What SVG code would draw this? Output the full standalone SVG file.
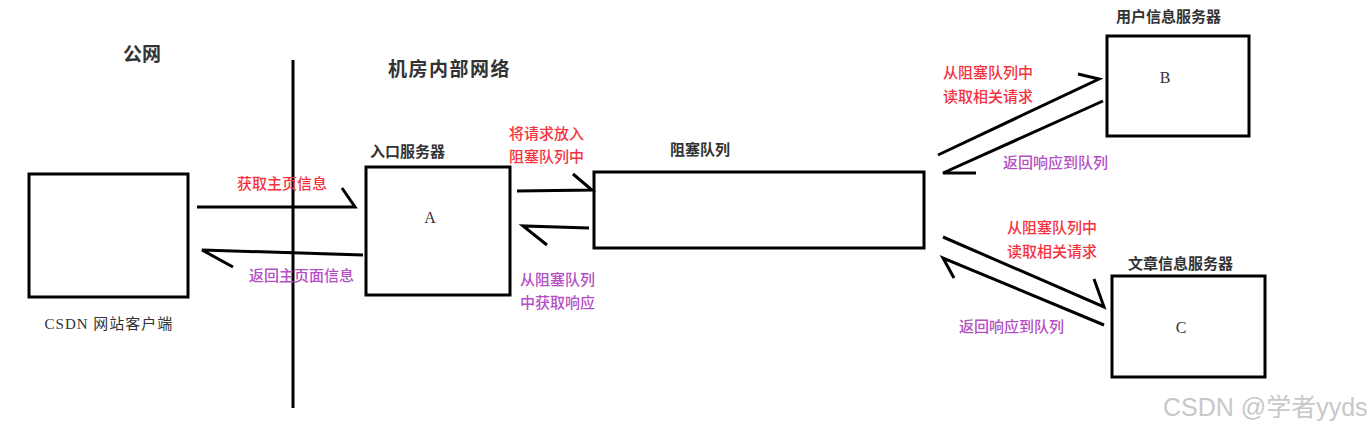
<svg xmlns="http://www.w3.org/2000/svg" width="1371" height="430" viewBox="0 0 1371 430">
<style>
.box{fill:#fff;stroke:#000;stroke-width:3}
.ln{fill:none;stroke:#000;stroke-width:3;stroke-linecap:butt}
.t{font-family:"Liberation Serif","Noto Sans CJK SC",serif;fill:#333}
.tb{font-family:"Noto Sans CJK SC",sans-serif;font-weight:bold;fill:#333}
.red{font-family:"Noto Sans CJK SC",sans-serif;font-weight:500;fill:#f5333f;font-size:15px}
.pur{font-family:"Noto Sans CJK SC",sans-serif;font-weight:500;fill:#b44fc4;font-size:15px}
.wm{font-family:"Liberation Sans","Noto Sans CJK SC",sans-serif;fill:#c8c8c8;font-size:25px}
</style>
<rect width="1371" height="430" fill="#fff"/>
<g id="regions">
<line class="ln" x1="293" y1="60" x2="293" y2="408"/>
<text class="tb" x="123" y="61" font-size="19">公网</text>
<text class="tb" x="388" y="76" font-size="19" letter-spacing="1.5">机房内部网络</text>
</g>
<g id="client">
<rect class="box" x="29" y="174" width="159" height="123"/>
<text class="t" x="109" y="329" font-size="15" letter-spacing="1" text-anchor="middle">CSDN 网站客户端</text>
</g>
<g id="A">
<rect class="box" x="366" y="167" width="144" height="128"/>
<text class="t" x="430" y="223" font-size="16" text-anchor="middle">A</text>
<text class="tb" x="370" y="157" font-size="15">入口服务器</text>
</g>
<g id="queue">
<rect class="box" x="594" y="172" width="330" height="76"/>
<text class="tb" x="670" y="155" font-size="15">阻塞队列</text>
</g>
<g id="B">
<rect class="box" x="1107" y="36" width="142" height="100"/>
<text class="t" x="1165" y="83" font-size="16" text-anchor="middle">B</text>
<text class="tb" x="1116" y="22" font-size="15">用户信息服务器</text>
</g>
<g id="C">
<rect class="box" x="1112" y="276" width="153" height="101"/>
<text class="t" x="1181" y="333" font-size="16" text-anchor="middle">C</text>
<text class="tb" x="1128" y="269" font-size="15">文章信息服务器</text>
</g>
<g id="connectors">
<polyline class="ln" points="197,207 355,207 342,188"/>
<polyline class="ln" points="363,255 202,250 233,267"/>
<polyline class="ln" points="517,191 592,190 573,174"/>
<polyline class="ln" points="589,228 523,226 547,245"/>
<polyline class="ln" points="938,155 1099,79 1078,74"/>
<polyline class="ln" points="1103,101 943,173 976,173"/>
<polyline class="ln" points="943,237 1104,307 1094,279"/>
<polyline class="ln" points="1104,325 943,258 954,278"/>
</g>
<g id="labels">
<text class="red" x="237" y="189">获取主页信息</text>
<text class="pur" x="249" y="281">返回主页面信息</text>
<text class="red" x="509" y="139">将请求放入</text>
<text class="red" x="509" y="162">阻塞队列中</text>
<text class="pur" x="520" y="285">从阻塞队列</text>
<text class="pur" x="520" y="308">中获取响应</text>
<text class="red" x="943" y="78">从阻塞队列中</text>
<text class="red" x="943" y="102">读取相关请求</text>
<text class="pur" x="1003" y="168">返回响应到队列</text>
<text class="red" x="1007" y="233">从阻塞队列中</text>
<text class="red" x="1007" y="257">读取相关请求</text>
<text class="pur" x="959" y="332">返回响应到队列</text>
</g>
<text class="wm" x="1163" y="416">CSDN @学者yyds</text>
</svg>
